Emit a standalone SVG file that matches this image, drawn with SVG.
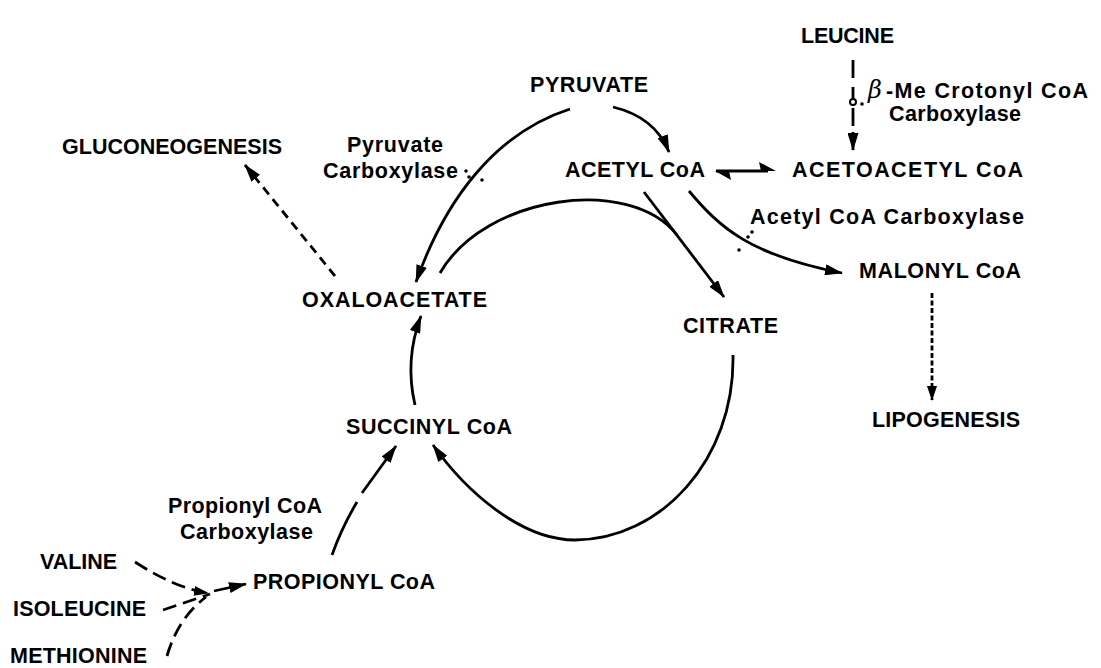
<svg xmlns="http://www.w3.org/2000/svg" width="1101" height="668" viewBox="0 0 1101 668">
<style>
text{font-family:"Liberation Sans",Arial,sans-serif;font-weight:bold;font-size:21.5px;fill:#000}
.greek{font-family:"DejaVu Serif","Liberation Serif",serif;font-style:italic;font-weight:normal;font-size:24px}
.ln{fill:none;stroke:#000;stroke-width:2.8}
.d1{stroke-dasharray:9 6}
.d2{stroke-dasharray:5 2.5}
.d3{stroke-dasharray:14 7}
.dot{fill:#000}
</style>
<defs>
<marker id="ah" markerUnits="userSpaceOnUse" markerWidth="18" markerHeight="11" refX="17" refY="5.5" orient="auto">
<path d="M0,0 L18,5.5 L0,11 z" fill="#000"/>
</marker>
<marker id="ahs" markerUnits="userSpaceOnUse" markerWidth="15" markerHeight="10" refX="14" refY="5" orient="auto">
<path d="M0,0 L15,5 L0,10 z" fill="#000"/>
</marker>
</defs>
<rect width="1101" height="668" fill="#fff"/>
<g id="connectors">
<path class="ln" d="M613,107 Q655,117 669,152" marker-end="url(#ah)"/>
<path class="ln" d="M570,109 C495,133 445,200 416,282" marker-end="url(#ah)"/>
<path class="ln" d="M644,192 L724,297" marker-end="url(#ah)"/>
<path class="ln" d="M440,273 C485,195 630,175 677,235"/>
<path class="ln" d="M689,191 C720,228 750,255 842,273" marker-end="url(#ah)"/>
<path class="ln" d="M716,171 L768,171"/>
<polygon points="776,171 759,162 761,171"/>
<polygon points="715,171 731,180 729,171"/>
<path class="ln" d="M853,60 L853,78 M853,87 L853,99 M853,108 L853,126"/>
<circle cx="853" cy="102" r="3" fill="#fff" stroke="#000" stroke-width="2"/>
<circle class="dot" cx="862" cy="104" r="1.8"/>
<path class="ln" d="M853,132 L853,150" marker-end="url(#ah)"/>
<path class="ln d2" d="M932,293 L932,400" marker-end="url(#ahs)"/>
<path class="ln d1" d="M335,276 L245,165" marker-end="url(#ah)"/>
<path class="ln" d="M415,405 C408,375 410,345 421,316" marker-end="url(#ah)"/>
<path class="ln" d="M733,355 C735,460 660,540 575,540 C520,540 465,490 433,445" marker-end="url(#ah)"/>
<path class="ln" d="M332,555 Q342,527 357,502"/>
<path class="ln" d="M362,493 L396,446" marker-end="url(#ah)"/>
<path class="ln d3" d="M135,562 Q175,588 208,593" marker-end="url(#ahs)"/>
<path class="ln d3" d="M163,610 L210,594"/>
<path class="ln d3" d="M167,656 Q178,618 206,597"/>
<path class="ln" d="M214,591 L246,584" marker-end="url(#ah)"/>
<circle class="dot" cx="466" cy="171" r="1.8"/>
<circle class="dot" cx="469" cy="177" r="1.8"/>
<circle class="dot" cx="482" cy="180" r="1.8"/>
<circle class="dot" cx="752" cy="232" r="1.8"/>
<circle class="dot" cx="748" cy="237" r="1.8"/>
<circle class="dot" cx="739" cy="250" r="1.8"/>
</g>
<g id="leucine"><text x="801" y="43" textLength="93" lengthAdjust="spacing">LEUCINE</text></g>
<g id="pyruvate"><text x="530" y="92" textLength="118" lengthAdjust="spacing">PYRUVATE</text></g>
<g id="me-crotonyl-coa-carboxylase"><text x="868" y="98"><tspan class="greek">β</tspan><tspan x="886" textLength="202" lengthAdjust="spacing">-Me Crotonyl CoA</tspan></text><text x="889" y="121" textLength="132" lengthAdjust="spacing">Carboxylase</text></g>
<g id="gluconeogenesis"><text x="62" y="154" textLength="220" lengthAdjust="spacing">GLUCONEOGENESIS</text></g>
<g id="pyruvate-carboxylase"><text x="347" y="152" textLength="96" lengthAdjust="spacing">Pyruvate</text><text x="323" y="178" textLength="135" lengthAdjust="spacing">Carboxylase</text></g>
<g id="acetyl-coa"><text x="565" y="177" textLength="140" lengthAdjust="spacing">ACETYL CoA</text></g>
<g id="acetoacetyl-coa"><text x="792" y="177" textLength="231" lengthAdjust="spacing">ACETOACETYL  CoA</text></g>
<g id="acetyl-coa-carboxylase"><text x="750" y="224" textLength="274" lengthAdjust="spacing">Acetyl CoA Carboxylase</text></g>
<g id="malonyl-coa"><text x="859" y="278" textLength="162" lengthAdjust="spacing">MALONYL CoA</text></g>
<g id="oxaloacetate"><text x="302" y="307" textLength="185" lengthAdjust="spacing">OXALOACETATE</text></g>
<g id="citrate"><text x="683" y="333" textLength="95" lengthAdjust="spacing">CITRATE</text></g>
<g id="lipogenesis"><text x="872" y="427" textLength="148" lengthAdjust="spacing">LIPOGENESIS</text></g>
<g id="succinyl-coa"><text x="346" y="434" textLength="166" lengthAdjust="spacing">SUCCINYL CoA</text></g>
<g id="propionyl-coa-carboxylase"><text x="168" y="513" textLength="154" lengthAdjust="spacing">Propionyl CoA</text><text x="180" y="539" textLength="133" lengthAdjust="spacing">Carboxylase</text></g>
<g id="valine"><text x="40" y="569" textLength="77" lengthAdjust="spacing">VALINE</text></g>
<g id="propionyl-coa"><text x="253" y="589" textLength="182" lengthAdjust="spacing">PROPIONYL CoA</text></g>
<g id="isoleucine"><text x="13" y="616" textLength="133" lengthAdjust="spacing">ISOLEUCINE</text></g>
<g id="methionine"><text x="10" y="663" textLength="137" lengthAdjust="spacing">METHIONINE</text></g>
</svg>
